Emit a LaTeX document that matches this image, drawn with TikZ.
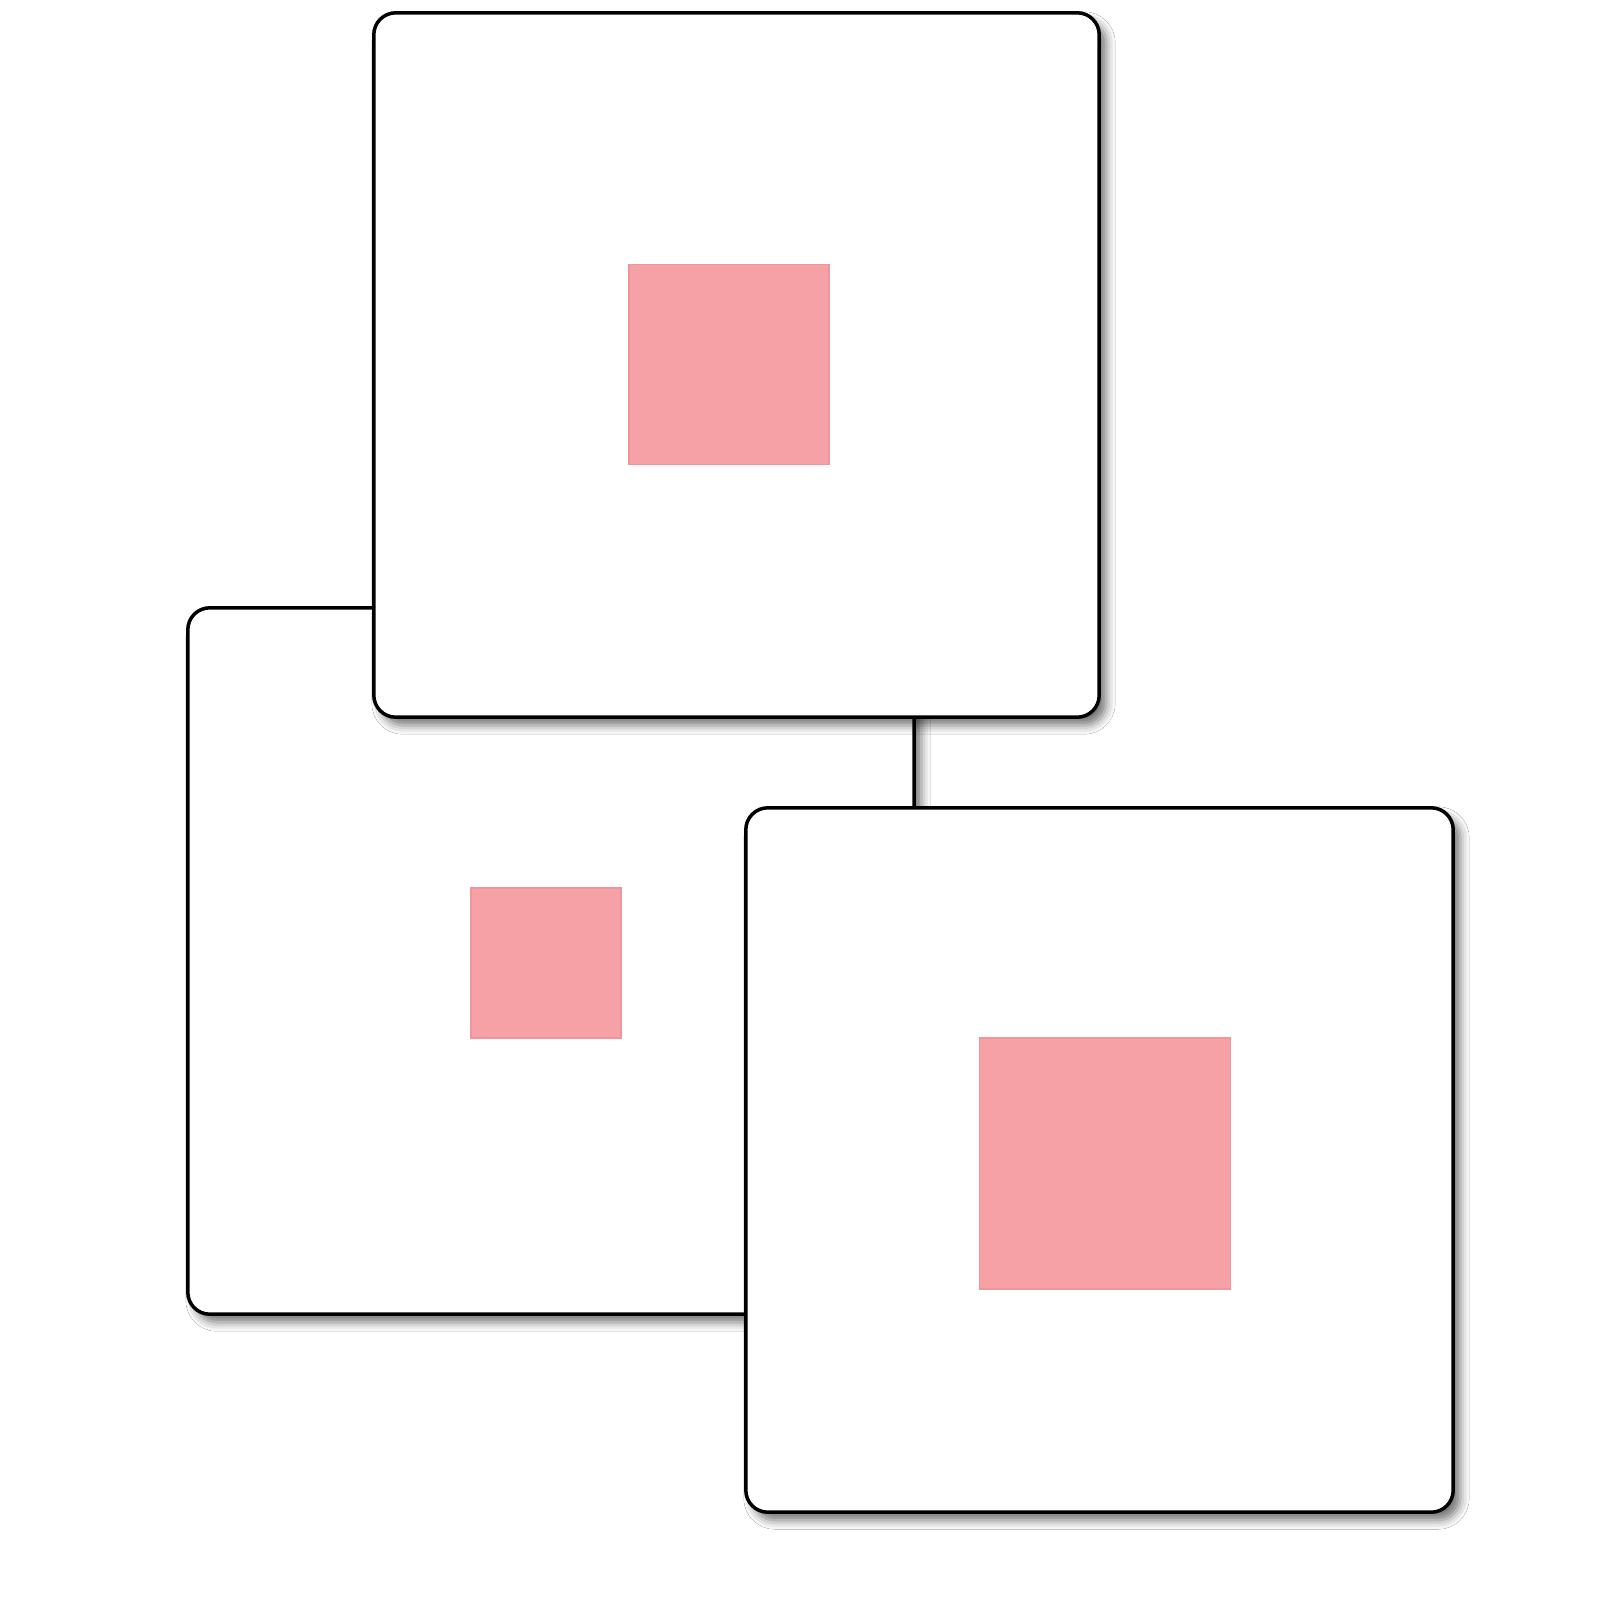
\documentclass[tikz,border=0pt]{standalone}
\usetikzlibrary{shadows.blur}
\definecolor{pinkfill}{HTML}{F5A1A6}
\definecolor{pinkedge}{HTML}{F1959B}
\tikzset{
  card/.style={draw=black, line width=0.035cm, fill=white, rounded corners=0.22cm,
    inner sep=0pt, outer sep=0pt,
    blur shadow={shadow xshift=0.07cm, shadow yshift=-0.08cm, shadow blur radius=0.09cm, shadow opacity=55}},
  pinksq/.style={fill=pinkfill, draw=pinkedge, line width=0.015cm, inner sep=0pt, outer sep=0pt}
}
\begin{document}
\begin{tikzpicture}[x=0.01cm, y=-0.01cm]
\useasboundingbox (0,0) rectangle (1600,1600);
\fill[white] (0,0) rectangle (1600,1600);
% left card (behind); its right edge shows between the other two cards
\node[card, minimum width=7.26cm, minimum height=7.06cm] (left) at (551,961) {};
% top card
\node[card, minimum width=7.25cm, minimum height=7.04cm] (top) at (736.5,365) {};
% right card
\node[card, minimum width=7.07cm, minimum height=7.04cm] (right) at (1099.5,1160) {};
% pink squares
\node[pinksq, minimum size=2.0cm] (ptop) at (729,364.5) {};
\node[pinksq, minimum size=1.5cm] (pleft) at (546,963) {};
\node[pinksq, minimum size=2.51cm] (pright) at (1105,1163.5) {};
\end{tikzpicture}
\end{document}
